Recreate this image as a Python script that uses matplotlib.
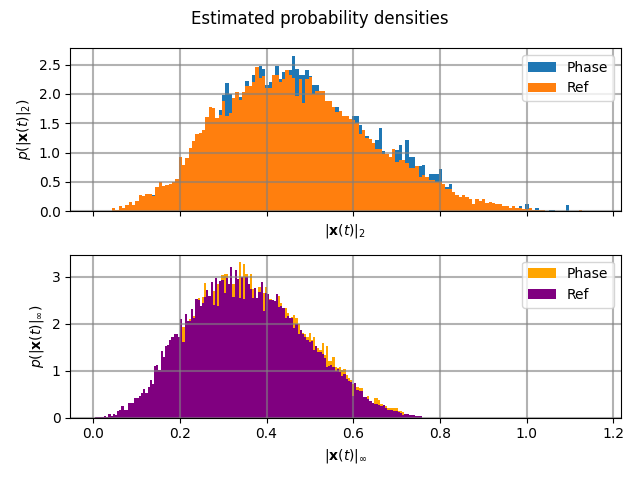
import numpy as np
import matplotlib
matplotlib.use("Agg")
import matplotlib.pyplot as plt
from matplotlib.ticker import MultipleLocator

# Histogram ranges (bin edges span these, 150 bins each)
norm2_range = (0.005, 1.159)
norminf_range = (0.005, 0.758)

# Estimated densities of |x(t)|_2
norm2_ref = [0.0, 0.01, 0.01, 0.01, 0.01, 0.05, 0.02, 0.08, 0.06, 0.1,
             0.15, 0.1, 0.18, 0.28, 0.25, 0.3, 0.3, 0.25, 0.41, 0.5,
             0.43, 0.45, 0.46, 0.5, 0.55, 0.92, 0.78, 0.9, 1.08, 1.2,
             1.32, 1.34, 1.39, 1.6, 1.77, 1.76, 1.59, 1.64, 1.88, 1.62,
             1.68, 1.93, 2.03, 1.9, 2.03, 2.13, 2.13, 2.2, 2.46, 2.27,
             2.3, 2.1, 2.1, 2.32, 2.32, 2.2, 2.25, 2.4, 2.32, 2.27,
             1.97, 2.25, 1.84, 2.25, 2.28, 1.99, 2.05, 2.05, 2.05, 1.88,
             1.88, 1.77, 1.69, 1.7, 1.63, 1.63, 1.57, 1.56, 1.5, 1.31,
             1.38, 1.24, 1.23, 1.17, 1.06, 1.06, 0.97, 0.97, 0.92, 1.06,
             0.84, 0.87, 0.87, 0.82, 0.73, 0.73, 0.77, 0.58, 0.62, 0.58,
             0.53, 0.53, 0.5, 0.5, 0.46, 0.37, 0.37, 0.33, 0.28, 0.24,
             0.27, 0.24, 0.2, 0.12, 0.21, 0.18, 0.2, 0.14, 0.16, 0.14,
             0.12, 0.13, 0.08, 0.08, 0.06, 0.09, 0.05, 0.06, 0.03, 0.03,
             0.06, 0.02, 0.02, 0.02, 0.02, 0.01, 0.01, 0.01, 0.01, 0.01,
             0.01, 0.01, 0.0, 0.01, 0.0, 0.02, 0.0, 0.0, 0.0, 0.01]

norm2_phase = [0.0, 0.01, 0.01, 0.01, 0.01, 0.05, 0.02, 0.08, 0.06, 0.1,
               0.15, 0.1, 0.18, 0.28, 0.25, 0.3, 0.3, 0.27, 0.41, 0.5,
               0.43, 0.45, 0.46, 0.5, 0.55, 0.92, 0.78, 0.9, 1.08, 1.2,
               1.32, 1.34, 1.39, 1.6, 1.77, 1.76, 1.59, 1.73, 1.98, 2.18,
               2.0, 1.93, 2.03, 1.95, 2.03, 2.22, 2.13, 2.33, 2.46, 2.47,
               2.43, 2.15, 2.2, 2.32, 2.47, 2.25, 2.37, 2.4, 2.4, 2.65,
               2.42, 2.33, 2.33, 2.4, 2.3, 2.15, 2.15, 2.05, 2.05, 1.88,
               1.88, 1.77, 1.78, 1.7, 1.63, 1.63, 1.57, 1.63, 1.63, 1.47,
               1.38, 1.28, 1.23, 1.17, 1.21, 1.41, 1.03, 0.97, 0.92, 1.06,
               1.05, 1.13, 0.87, 1.21, 0.92, 0.93, 0.77, 0.77, 0.79, 0.58,
               0.64, 0.63, 0.63, 0.72, 0.46, 0.41, 0.46, 0.33, 0.28, 0.24,
               0.27, 0.24, 0.2, 0.12, 0.21, 0.18, 0.2, 0.14, 0.16, 0.14,
               0.12, 0.13, 0.08, 0.08, 0.06, 0.09, 0.06, 0.08, 0.03, 0.12,
               0.06, 0.02, 0.05, 0.02, 0.02, 0.01, 0.02, 0.02, 0.01, 0.01,
               0.01, 0.1, 0.0, 0.0, 0.0, 0.0, 0.0, 0.0, 0.0, 0.0]

# Estimated densities of |x(t)|_inf
norminf_ref = [0.01, 0.01, 0.01, 0.01, 0.03, 0.01, 0.07, 0.03, 0.07, 0.05,
               0.14, 0.17, 0.24, 0.17, 0.17, 0.32, 0.32, 0.32, 0.43, 0.43,
               0.46, 0.53, 0.62, 0.53, 0.66, 0.81, 0.72, 1.1, 1.12, 1.01,
               1.43, 1.3, 1.52, 1.54, 1.66, 1.71, 1.79, 1.79, 1.71, 2.1,
               1.62, 2.21, 2.06, 2.06, 2.31, 2.12, 2.52, 2.5, 2.38, 2.45,
               2.57, 2.72, 2.6, 2.9, 2.4, 2.98, 2.39, 2.91, 2.93, 2.65,
               2.98, 2.84, 3.21, 2.57, 3.15, 2.96, 2.55, 3.0, 2.53, 3.0,
               2.84, 2.75, 2.55, 2.77, 2.56, 2.68, 2.9, 2.28, 2.66, 2.64,
               2.5, 2.51, 2.48, 2.64, 2.36, 2.38, 2.33, 2.12, 2.16, 2.12,
               2.12, 1.91, 2.0, 1.79, 1.86, 1.79, 1.71, 1.66, 1.62, 1.64,
               1.45, 1.52, 1.41, 1.4, 1.35, 1.27, 1.09, 1.11, 1.13, 1.09,
               1.0, 1.04, 0.97, 0.88, 0.93, 0.83, 0.79, 0.76, 0.46, 0.73,
               0.59, 0.57, 0.57, 0.44, 0.44, 0.39, 0.36, 0.32, 0.3, 0.3,
               0.27, 0.24, 0.27, 0.2, 0.17, 0.17, 0.17, 0.15, 0.15, 0.13,
               0.1, 0.05, 0.07, 0.08, 0.05, 0.05, 0.05, 0.03, 0.03, 0.03]

norminf_phase = [0.01, 0.01, 0.01, 0.01, 0.03, 0.01, 0.07, 0.03, 0.07, 0.05,
                 0.14, 0.17, 0.24, 0.17, 0.17, 0.32, 0.32, 0.32, 0.43, 0.43,
                 0.46, 0.53, 0.62, 0.53, 0.66, 0.81, 0.72, 1.1, 1.12, 1.01,
                 1.43, 1.3, 1.52, 1.54, 1.66, 1.71, 1.79, 1.79, 1.71, 2.1,
                 1.93, 2.21, 2.06, 2.1, 2.32, 2.16, 2.52, 2.55, 2.38, 2.57,
                 2.86, 2.72, 2.6, 2.9, 2.69, 2.98, 2.84, 2.91, 3.04, 3.07,
                 3.07, 2.84, 3.21, 2.84, 3.15, 2.96, 3.31, 3.0, 3.28, 3.06,
                 2.84, 3.06, 2.75, 2.77, 2.56, 2.78, 2.9, 2.66, 2.78, 2.64,
                 2.52, 2.51, 2.48, 2.64, 2.6, 2.45, 2.33, 2.34, 2.23, 2.12,
                 2.15, 2.19, 2.13, 2.0, 1.86, 1.81, 1.79, 1.71, 1.81, 1.66,
                 1.71, 1.53, 1.48, 1.45, 1.6, 1.34, 1.52, 1.2, 1.2, 1.3,
                 1.09, 1.06, 1.07, 1.02, 1.04, 0.92, 0.85, 0.81, 0.71, 0.73,
                 0.66, 0.64, 0.64, 0.44, 0.44, 0.46, 0.36, 0.32, 0.43, 0.43,
                 0.38, 0.29, 0.27, 0.25, 0.2, 0.2, 0.2, 0.2, 0.2, 0.15,
                 0.14, 0.12, 0.0, 0.0, 0.0, 0.0, 0.0, 0.0, 0.0, 0.0]


def draw_hist(ax, values, value_range, color, label):
    edges = np.linspace(value_range[0], value_range[1], len(values) + 1)
    centers = 0.5 * (edges[:-1] + edges[1:])
    ax.hist(centers, bins=edges, weights=values, color=color, label=label)


fig, (ax1, ax2) = plt.subplots(2, 1, sharex=True, figsize=(6.4, 4.8), dpi=100)
fig.suptitle("Estimated probability densities")

# Top: 2-norm
draw_hist(ax1, norm2_phase, norm2_range, "tab:blue", "Phase")
draw_hist(ax1, norm2_ref, norm2_range, "tab:orange", "Ref")
ax1.set_xlabel(r"$|\mathbf{x}(t)|_2$")
ax1.set_ylabel(r"$p(|\mathbf{x}(t)|_2)$")
ax1.yaxis.set_major_locator(MultipleLocator(0.5))
ax1.grid(True, color="gray", linewidth=1.5, alpha=0.6)
ax1.legend(loc="upper right")
ax1.tick_params(labelbottom=False)

# Bottom: inf-norm
draw_hist(ax2, norminf_phase, norminf_range, "orange", "Phase")
draw_hist(ax2, norminf_ref, norminf_range, "purple", "Ref")
ax2.set_xlabel(r"$|\mathbf{x}(t)|_\infty$")
ax2.set_ylabel(r"$p(|\mathbf{x}(t)|_\infty)$")
ax2.grid(True, color="gray", linewidth=1.5, alpha=0.6)
ax2.legend(loc="upper right")

fig.tight_layout()
fig.savefig("out.png")
